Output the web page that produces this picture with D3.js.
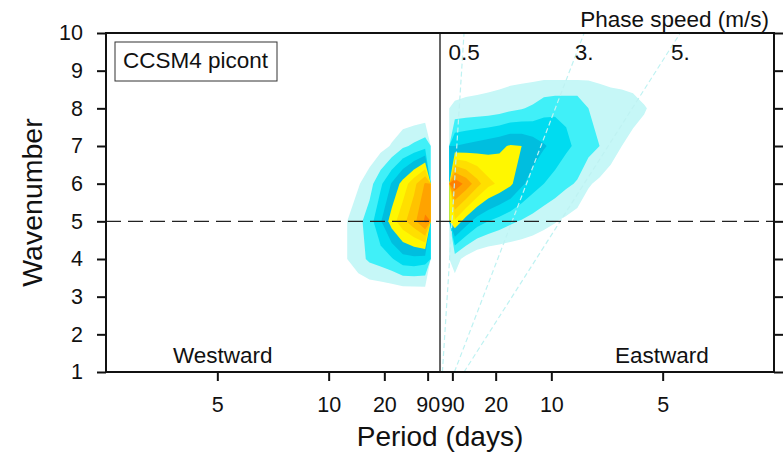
<!DOCTYPE html>
<html>
<head>
<script src="https://d3js.org/d3.v7.min.js"></script>
<style>
  body { margin: 0; background: white; }
  text { font-family: "Liberation Sans", Arial, Helvetica, sans-serif; fill: #111; }
</style>
</head>
<body>
<div id="chart"></div>
<script>
// wavenumber rows (k = 1..10), frequency columns 0.01 cpd wide
var wavenumbers = [1, 2, 3, 4, 5, 6, 7, 8, 9, 10];
var freqStep = 0.01;
var maskFreq = 1 / 120;          // periods longer than 120 days are blanked

// westward side, columns from -0.1083 to -1/120 cpd (left to right)
var westPower = [
  [0, 0, 0, 0, 0, 0, 0, 0, 0, 0],
  [0, 0, 0, 0, 0, 0, 0, 0, 0, 0],
  [0, 0, 0, 0, 0, 0, 0, 0, 0, 0.1],
  [0.1, 0.6, 1.0, 1.6, 2.2, 2.5, 2.9, 3.6, 3.7, 3.5],
  [0.2, 0.5, 1.0, 1.7, 2.5, 3.9, 5.5, 6.7, 7.7, 9.2],
  [0, 0.2, 0.5, 0.9, 1.6, 2.8, 4.1, 5.4, 6.7, 8.1],
  [0, 0, 0, 0, 0.2, 0.6, 1.1, 1.8, 2.2, 2.6],
  [0, 0, 0, 0, 0, 0, 0, 0, 0, 0],
  [0, 0, 0, 0, 0, 0, 0, 0, 0, 0],
  [0, 0, 0, 0, 0, 0, 0, 0, 0, 0]
];

// eastward side, columns from 1/120 to 0.2083 cpd
var eastPower = [
  [0, 0, 0, 0, 0, 0, 0, 0, 0, 0, 0, 0, 0, 0, 0, 0, 0, 0, 0, 0],
  [0, 0, 0, 0, 0, 0, 0, 0, 0, 0, 0, 0, 0, 0, 0, 0, 0, 0, 0, 0],
  [0.3, 0.1, 0, 0, 0, 0, 0, 0, 0, 0, 0, 0, 0, 0, 0, 0, 0, 0, 0, 0],
  [1.42, 0.64, 0.2, 0, 0, 0, 0, 0, 0, 0, 0, 0, 0, 0, 0, 0, 0, 0, 0, 0],
  [5.8, 4.5, 3.5, 3.0, 2.6, 2.2, 1.9, 1.6, 1.3, 1.05, 0.8, 0.5, 0.3, 0.2, 0.1, 0, 0, 0, 0, 0],
  [9.7, 8.7, 7.4, 6.3, 5.8, 5.2, 4.2, 3.5, 3.0, 2.6, 2.2, 1.9, 1.1, 0.8, 0.5, 0.3, 0.1, 0, 0, 0],
  [4.0, 4.2, 4.4, 4.6, 4.8, 5.1, 5.0, 4.6, 4.1, 3.7, 3.2, 2.8, 2.4, 2.0, 1.5, 1.0, 0.7, 0.5, 0.3, 0.1],
  [1.18, 1.26, 1.3, 1.36, 1.5, 1.75, 1.93, 2.17, 2.65, 2.8, 2.8, 2.8, 2.0, 1.9, 1.7, 1.5, 1.35, 1.1, 0.7, 0.3],
  [0.3, 0.4, 0.45, 0.5, 0.5, 0.5, 0.5, 0.5, 0.45, 0.4, 0.4, 0.4, 0.65, 0.52, 0.43, 0.5, 0.47, 0.1, 0.1, 0],
  [0, 0, 0, 0, 0, 0, 0, 0, 0, 0, 0, 0, 0, 0, 0, 0, 0, 0, 0, 0]
];

var levels = [1, 2, 3, 4, 5, 6, 7, 8, 9];
var levelColors = ["#c6f7f7", "#40f0f8", "#00dcf0", "#00bedf", "#fff700",
                   "#ffdf00", "#ffc300", "#ffa300", "#ff7f00"];

var periodTicks = [5, 10, 20, 90];
var phaseSpeeds = [0.5, 3, 5];
var phaseLabels = ["0.5", "3.", "5."];
var latitude = 60;

var width = 783, height = 459;
var margin = { top: 33, right: 9, bottom: 87, left: 106 };
var x0 = margin.left, x1 = width - margin.right;
var y0 = margin.top, y1 = height - margin.bottom;

var svg = d3.select("#chart").append("svg")
  .attr("width", width).attr("height", height);

var xs = d3.scaleLinear().domain([-0.3, 0.3]).range([x0, x1]);
var ys = d3.scaleLinear().domain([1, 10]).range([y1, y0]);

svg.append("clipPath").attr("id", "plotclip")
  .append("rect").attr("x", x0).attr("y", y0).attr("width", x1 - x0).attr("height", y1 - y0);

var plot = svg.append("g").attr("clip-path", "url(#plotclip)");

function drawSide(rows, fStart) {
  var nx = rows[0].length, ny = rows.length;
  var flat = [].concat.apply([], rows);
  var cont = d3.contours().size([nx, ny]).thresholds(levels)(flat);
  var proj = d3.geoTransform({
    point: function (gx, gy) {
      this.stream.point(xs(fStart + gx * freqStep), ys(gy + 0.5));
    }
  });
  var path = d3.geoPath(proj);
  plot.append("g").selectAll("path")
    .data(cont)
    .enter().append("path")
    .attr("d", path)
    .attr("fill", function (d, i) { return levelColors[i]; })
    .attr("stroke", "none");
}

drawSide(westPower, -maskFreq - westPower[0].length * freqStep);
drawSide(eastPower, maskFreq);

// phase speed lines
var earthR = 6.371e6;
function phaseFreq(c, k) {
  return c * k * 86400 / (2 * Math.PI * earthR * Math.cos(latitude * Math.PI / 180));
}
phaseSpeeds.forEach(function (c) {
  plot.append("line")
    .attr("x1", xs(phaseFreq(c, 1))).attr("y1", ys(1))
    .attr("x2", xs(phaseFreq(c, 10))).attr("y2", ys(10))
    .attr("stroke", "#bff2f2")
    .attr("stroke-width", 1.2)
    .attr("stroke-dasharray", "5,3");
});

// zero frequency and k=5 reference lines
plot.append("line")
  .attr("x1", xs(0)).attr("x2", xs(0)).attr("y1", y0).attr("y2", y1)
  .attr("stroke", "#333").attr("stroke-width", 1.5);
plot.append("line")
  .attr("x1", x0).attr("x2", x1).attr("y1", ys(5)).attr("y2", ys(5))
  .attr("stroke", "#222").attr("stroke-width", 1.3)
  .attr("stroke-dasharray", "15,7");

// axes
var yAxis = d3.axisLeft(ys).tickValues(wavenumbers).tickSize(9).tickSizeOuter(0).tickPadding(14);
var gy = svg.append("g").attr("transform", "translate(" + x0 + ",0)").call(yAxis);
var gyr = svg.append("g").attr("transform", "translate(" + x1 + ",0)")
  .call(d3.axisRight(ys).tickValues(wavenumbers).tickSize(9).tickSizeOuter(0).tickFormat(""));

var xTickVals = periodTicks.map(function (p) { return -1 / p; })
  .concat(periodTicks.slice().reverse().map(function (p) { return 1 / p; }));
var xAxis = d3.axisBottom(xs).tickValues(xTickVals).tickSize(9).tickSizeOuter(0).tickPadding(16)
  .tickFormat(function (f) { return d3.format("d")(Math.round(1 / Math.abs(f))); });
var gx = svg.append("g").attr("transform", "translate(0," + y1 + ")").call(xAxis);

[gy, gyr, gx].forEach(function (g) {
  g.select(".domain").remove();
  g.selectAll(".tick line").attr("stroke", "#111").attr("stroke-width", 2);
  g.selectAll("text").style("font-size", "21.5px").attr("fill", "#111");
});

svg.append("rect")
  .attr("x", x0).attr("y", y0).attr("width", x1 - x0).attr("height", y1 - y0)
  .attr("fill", "none").attr("stroke", "#111").attr("stroke-width", 2);

// labels
svg.append("rect").attr("x", 115).attr("y", 42).attr("width", 162).attr("height", 39)
  .attr("fill", "white").attr("stroke", "#333").attr("stroke-width", 1);
svg.append("text").attr("x", 123).attr("y", 68).style("font-size", "22.5px").text("CCSM4 picont");

svg.append("text").attr("x", 769).attr("y", 27).attr("text-anchor", "end")
  .style("font-size", "22.5px").text("Phase speed (m/s)");

phaseSpeeds.forEach(function (c, i) {
  svg.append("text")
    .attr("x", xs(phaseFreq(c, 10))).attr("y", 60)
    .attr("text-anchor", "middle")
    .style("font-size", "22.5px")
    .text(phaseLabels[i]);
});

svg.append("text").attr("x", 173).attr("y", 363).style("font-size", "22.5px").text("Westward");
svg.append("text").attr("x", 615).attr("y", 363).style("font-size", "22.5px").text("Eastward");

svg.append("text").attr("x", 440).attr("y", 446).attr("text-anchor", "middle")
  .style("font-size", "28px").text("Period (days)");
svg.append("text")
  .attr("transform", "translate(42," + ((y0 + y1) / 2) + ") rotate(-90)")
  .attr("text-anchor", "middle")
  .style("font-size", "28.5px").text("Wavenumber");
</script>
</body>
</html>
